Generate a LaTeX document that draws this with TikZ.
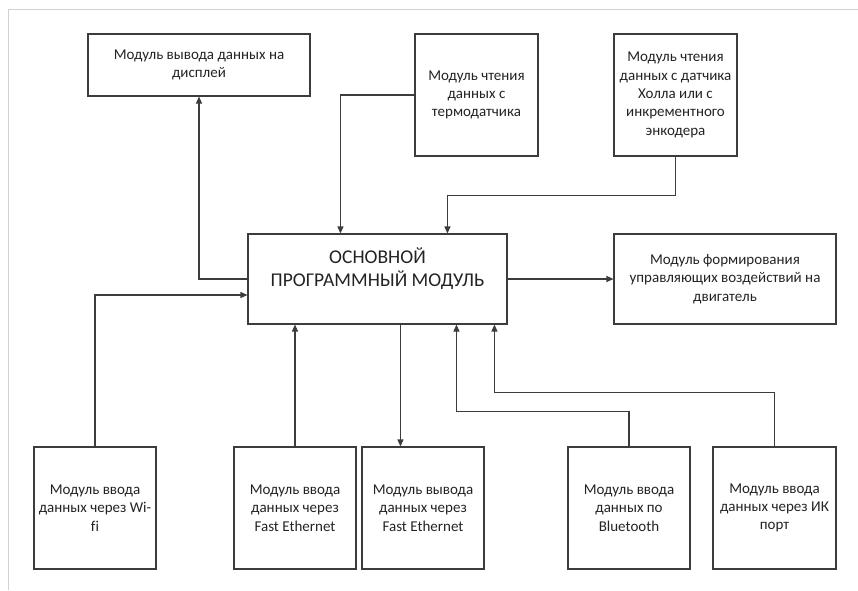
\documentclass[tikz,border=0pt]{standalone}
\usepackage{fontspec}
\setmainfont[Ligatures=NoCommon]{Carlito}
\usetikzlibrary{arrows.meta,calc}
\definecolor{ln}{RGB}{60,60,60}
\definecolor{tx}{RGB}{35,35,35}
\definecolor{fr}{RGB}{210,210,210}
\tikzset{
  box/.style={draw=ln, line width=1.1pt, rectangle, inner sep=0pt, align=center,
    text=tx, font=\fontsize{15}{18.3}\selectfont},
  arr/.style={draw=ln, line width=1.1pt, -{Triangle[length=7pt,width=6pt]}},
  ln/.style={draw=ln, line width=1.1pt}
}
\begin{document}
\begin{tikzpicture}[x=1pt,y=-1pt]
\useasboundingbox (0,0) rectangle (858,590);
\draw[fr, line width=1pt] (858,9) -- (8,9) -- (8,590);
% top boxes
\node[box, minimum width=222, minimum height=62] (disp) at (199,65) {Модуль вывода данных на\\дисплей};
\node[box, minimum width=123, minimum height=122] (thermo) at (476.5,95) {Модуль чтения\\данных с\\термодатчика};
\node[box, minimum width=123, minimum height=122] (hall) at (675.5,95) {Модуль чтения\\данных с датчика\\Холла или с\\инкрементного\\энкодера};
% main
\node[box, minimum width=259, minimum height=90, font=\fontsize{19.5}{23}\selectfont] (main) at (377.5,279) {ОСНОВНОЙ\\ПРОГРАММНЫЙ МОДУЛЬ\\~};
\node[box, minimum width=222, minimum height=90] (motor) at (725,279) {Модуль формирования\\управляющих воздействий на\\двигатель};
% bottom boxes
\node[box, minimum width=122, minimum height=122] (wifi) at (95,508) {Модуль ввода\\данных через Wi-\\fi};
\node[box, minimum width=122, minimum height=122] (fein) at (295,508) {Модуль ввода\\данных через\\Fast Ethernet};
\node[box, minimum width=122, minimum height=122] (feout) at (423,508) {Модуль вывода\\данных через\\Fast Ethernet};
\node[box, minimum width=122, minimum height=122] (bt) at (629,508) {Модуль ввода\\данных по\\Bluetooth};
\node[box, minimum width=123, minimum height=122] (ir) at (774.5,508) {Модуль ввода\\данных через ИК\\порт};
% connectors
\draw[arr] (main.west) -| (disp.south);
\draw[arr] (thermo.west) -| ($(main.north west)+(93,0)$);
\draw[arr] (hall.south) -- ++(0,39) -| ($(main.north west)+(200,0)$);
\draw[arr] (main.east) -- (motor.west);
\draw[arr] (wifi.north) |- ($(main.west)+(0,16)$);
\draw[arr] (fein.north) -- (fein.north |- main.south);
\draw[arr] ($(main.south west)+(153,0)$) -- ($(feout.north west)+(39,0)$);
\draw[arr] (bt.north) -- ++(0,-35) -| ($(main.south west)+(209,0)$);
\draw[arr] (ir.north) -- ++(0,-54) -| ($(main.south west)+(247,0)$);
\end{tikzpicture}
\end{document}
